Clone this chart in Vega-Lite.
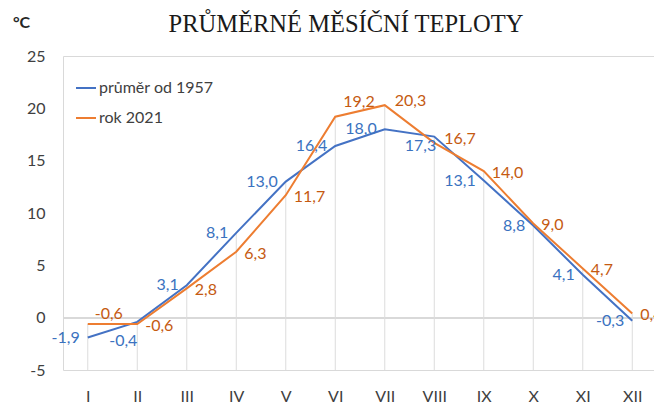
{
  "$schema": "https://vega.github.io/schema/vega-lite/v6.json",
  "width": 594,
  "height": 314,
  "autosize": {"type": "none"},
  "padding": {"left": 63, "top": 56, "right": 0, "bottom": 34},
  "background": "white",
  "title": {"text": "PRŮMĚRNÉ MĚSÍČNÍ TEPLOTY", "font": "Liberation Serif", "fontSize": 24.5, "fontWeight": "normal", "color": "#1a1a1a", "anchor": "middle", "frame": "group", "dx": -14, "offset": -23},
  "config": {
    "locale": {"number": {"decimal": ",", "thousands": " ", "grouping": [3], "currency": ["", " Kč"], "minus": "-"}},
    "view": {"stroke": "#d9d9d9"},
    "text": {"font": "Lato", "fontSize": 16, "baseline": "middle"}
  },
  "data": {
    "values": [
      {"month": "I", "series": "průměr od 1957", "value": -1.9},
      {"month": "II", "series": "průměr od 1957", "value": -0.4},
      {"month": "III", "series": "průměr od 1957", "value": 3.1},
      {"month": "IV", "series": "průměr od 1957", "value": 8.1},
      {"month": "V", "series": "průměr od 1957", "value": 13.0},
      {"month": "VI", "series": "průměr od 1957", "value": 16.4},
      {"month": "VII", "series": "průměr od 1957", "value": 18.0},
      {"month": "VIII", "series": "průměr od 1957", "value": 17.3},
      {"month": "IX", "series": "průměr od 1957", "value": 13.1},
      {"month": "X", "series": "průměr od 1957", "value": 8.8},
      {"month": "XI", "series": "průměr od 1957", "value": 4.1},
      {"month": "XII", "series": "průměr od 1957", "value": -0.3},
      {"month": "I", "series": "rok 2021", "value": -0.6},
      {"month": "II", "series": "rok 2021", "value": -0.6},
      {"month": "III", "series": "rok 2021", "value": 2.8},
      {"month": "IV", "series": "rok 2021", "value": 6.3},
      {"month": "V", "series": "rok 2021", "value": 11.7},
      {"month": "VI", "series": "rok 2021", "value": 19.2},
      {"month": "VII", "series": "rok 2021", "value": 20.3},
      {"month": "VIII", "series": "rok 2021", "value": 16.7},
      {"month": "IX", "series": "rok 2021", "value": 14.0},
      {"month": "X", "series": "rok 2021", "value": 9.0},
      {"month": "XI", "series": "rok 2021", "value": 4.7},
      {"month": "XII", "series": "rok 2021", "value": 0.4}
    ]
  },
  "encoding": {
    "x": {
      "field": "month", "type": "ordinal",
      "sort": ["I", "II", "III", "IV", "V", "VI", "VII", "VIII", "IX", "X", "XI", "XII"],
      "scale": {"type": "point", "padding": 0.5},
      "axis": {"title": null, "domain": false, "ticks": false, "labelAngle": 0, "labelPadding": 18, "labelFont": "Lato", "labelFontSize": 16, "labelColor": "#404040", "grid": false}
    }
  },
  "layer": [
    {
      "mark": {"type": "rule", "color": "#d9d9d9", "strokeWidth": 1},
      "encoding": {"x": null, "y": {"datum": 0, "type": "quantitative"}}
    },
    {
      "transform": [{"aggregate": [{"op": "max", "field": "value", "as": "maxv"}], "groupby": ["month"]}],
      "mark": {"type": "rule", "color": "#dcdcdc", "strokeWidth": 1},
      "encoding": {
        "y": {"field": "maxv", "type": "quantitative"},
        "y2": {"datum": -5}
      }
    },
    {
      "mark": {"type": "line", "strokeWidth": 2},
      "encoding": {
        "y": {
          "field": "value", "type": "quantitative",
          "scale": {"domain": [-5, 25], "nice": false, "zero": false},
          "axis": {"title": "°C", "titleAngle": 0, "titleX": -42, "titleY": -34, "titleAlign": "center", "titleBaseline": "middle", "titleFont": "Lato", "titleFontSize": 16, "titleFontWeight": "bold", "titleColor": "#262626", "values": [-5, 0, 5, 10, 15, 20, 25], "domain": false, "ticks": false, "grid": false, "labelPadding": 18, "labelFont": "Lato", "labelFontSize": 16, "labelColor": "#404040"}
        },
        "color": {
          "field": "series", "type": "nominal",
          "scale": {"domain": ["průměr od 1957", "rok 2021"], "range": ["#4472C4", "#ED7D31"]},
          "legend": {"title": null, "orient": "none", "legendX": 12, "legendY": 21, "symbolType": "stroke", "symbolSize": 400, "symbolStrokeWidth": 2, "labelFont": "Lato", "labelFontSize": 16, "labelColor": "#404040", "rowPadding": 11, "labelOffset": 2}
        }
      }
    },
    {
      "transform": [{"filter": "datum.series === 'průměr od 1957' && datum.month !== 'II' && datum.month !== 'VIII'"}],
      "mark": {"type": "text", "align": "right", "dx": -8, "dy": 0, "color": "#3A72C0"},
      "encoding": {"y": {"field": "value", "type": "quantitative"}, "text": {"field": "value", "type": "quantitative", "format": ".1f"}}
    },
    {
      "transform": [{"filter": "datum.series === 'průměr od 1957' && datum.month === 'II'"}],
      "mark": {"type": "text", "align": "center", "dx": -14, "dy": 19, "color": "#3A72C0"},
      "encoding": {"y": {"field": "value", "type": "quantitative"}, "text": {"field": "value", "type": "quantitative", "format": ".1f"}}
    },
    {
      "transform": [{"filter": "datum.series === 'průměr od 1957' && datum.month === 'VIII'"}],
      "mark": {"type": "text", "align": "right", "dx": 2, "dy": 9, "color": "#3A72C0"},
      "encoding": {"y": {"field": "value", "type": "quantitative"}, "text": {"field": "value", "type": "quantitative", "format": ".1f"}}
    },
    {
      "transform": [{"filter": {"field": "series", "equal": "rok 2021"}}, {"filter": {"field": "month", "oneOf": ["II", "III", "IV", "V", "IX", "X", "XI", "XII"]}}],
      "mark": {"type": "text", "align": "left", "dx": 8, "dy": 2, "color": "#C55A11"},
      "encoding": {"y": {"field": "value", "type": "quantitative"}, "text": {"field": "value", "type": "quantitative", "format": ".1f"}}
    },
    {
      "transform": [{"filter": {"field": "series", "equal": "rok 2021"}}, {"filter": {"field": "month", "equal": "I"}}],
      "mark": {"type": "text", "align": "left", "dx": 7, "dy": -10, "color": "#C55A11"},
      "encoding": {"y": {"field": "value", "type": "quantitative"}, "text": {"field": "value", "type": "quantitative", "format": ".1f"}}
    },
    {
      "transform": [{"filter": {"field": "series", "equal": "rok 2021"}}, {"filter": {"field": "month", "equal": "VI"}}],
      "mark": {"type": "text", "align": "left", "dx": 8, "dy": -15, "color": "#C55A11"},
      "encoding": {"y": {"field": "value", "type": "quantitative"}, "text": {"field": "value", "type": "quantitative", "format": ".1f"}}
    },
    {
      "transform": [{"filter": {"field": "series", "equal": "rok 2021"}}, {"filter": {"field": "month", "oneOf": ["VII", "VIII"]}}],
      "mark": {"type": "text", "align": "left", "dx": 10, "dy": -4, "color": "#C55A11"},
      "encoding": {"y": {"field": "value", "type": "quantitative"}, "text": {"field": "value", "type": "quantitative", "format": ".1f"}}
    }
  ]
}
